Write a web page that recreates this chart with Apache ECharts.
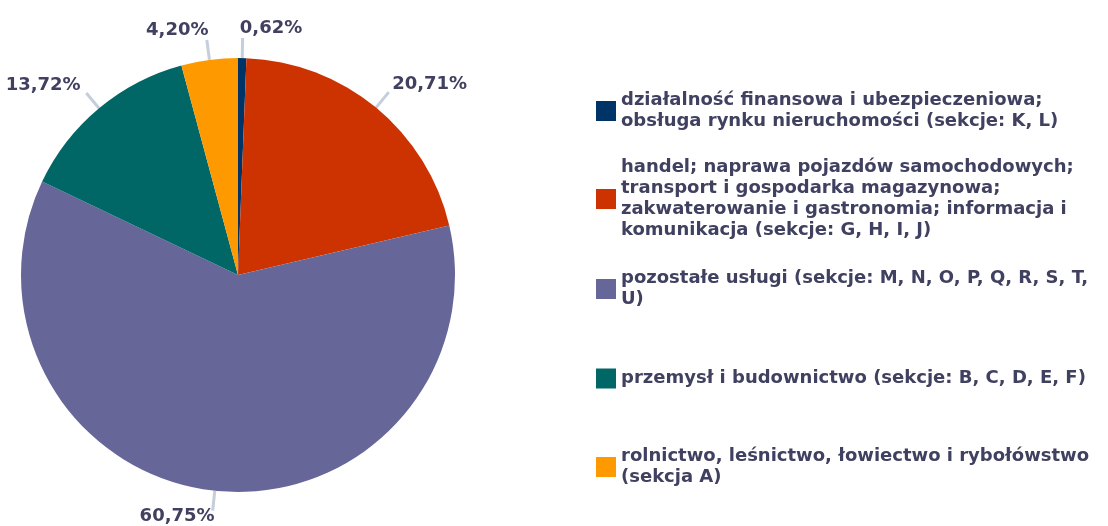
<!DOCTYPE html>
<html>
<head>
<meta charset="utf-8">
<script src="https://cdn.jsdelivr.net/npm/echarts@6/dist/echarts.min.js"></script>
<style>html,body{margin:0;padding:0;background:#fff}#c{width:1108px;height:526px}</style>
</head>
<body>
<div id="c"></div>
<script>
const categories = [
  'działalność finansowa i ubezpieczeniowa; obsługa rynku nieruchomości (sekcje: K, L)',
  'handel; naprawa pojazdów samochodowych; transport i gospodarka magazynowa; zakwaterowanie i gastronomia; informacja i komunikacja (sekcje: G, H, I, J)',
  'pozostałe usługi (sekcje: M, N, O, P, Q, R, S, T, U)',
  'przemysł i budownictwo (sekcje: B, C, D, E, F)',
  'rolnictwo, leśnictwo, łowiectwo i rybołówstwo (sekcja A)'
];
const legendLabels = [
  'działalność finansowa i ubezpieczeniowa;\nobsługa rynku nieruchomości (sekcje: K, L)',
  'handel; naprawa pojazdów samochodowych;\ntransport i gospodarka magazynowa;\nzakwaterowanie i gastronomia; informacja i\nkomunikacja (sekcje: G, H, I, J)',
  'pozostałe usługi (sekcje: M, N, O, P, Q, R, S, T,\nU)',
  'przemysł i budownictwo (sekcje: B, C, D, E, F)',
  'rolnictwo, leśnictwo, łowiectwo i rybołówstwo\n(sekcja A)'
];
const shares = [0.62, 20.71, 60.75, 13.72, 4.20];
const colors = ['#003366', '#CC3300', '#666699', '#006666', '#FF9900'];

const FONT = 'DejaVu Sans';
const textColor = '#404060';
const legendTops = [90, 157, 268, 368, 446];

const legends = categories.map((c, i) => ({
  data: [c],
  left: 596,
  top: legendTops[i],
  padding: 0,
  orient: 'vertical',
  itemWidth: 20,
  itemHeight: 20,
  itemGap: 0,
  icon: 'rect',
  formatter: () => legendLabels[i],
  textStyle: { fontFamily: FONT, fontWeight: 'bold', fontSize: 18, color: textColor, lineHeight: 21 }
}));

const pieData = categories.map((c, i) => ({ name: c, value: shares[i] }));
const center = [238, 275];
const radius = [0, 217];

const chart = echarts.init(document.getElementById('c'), null, { renderer: 'canvas' });
chart.setOption({
  animation: false,
  color: colors,
  legend: legends,
  series: [{
    type: 'pie',
    center: center,
    radius: radius,
    startAngle: 90,
    clockwise: true,
    avoidLabelOverlap: false,
    data: pieData,
    label: {
      show: true,
      position: 'outside',
      formatter: ' ',
      fontSize: 1,
      color: 'transparent'
    },
    labelLayout: { hideOverlap: false },
    labelLine: { show: true, length: 20, length2: 0, lineStyle: { color: '#C4CEDC', width: 3 } },
    itemStyle: { borderWidth: 0 }
  }, {
    type: 'pie',
    center: center,
    radius: radius,
    startAngle: 90,
    clockwise: true,
    silent: true,
    avoidLabelOverlap: true,
    data: pieData,
    itemStyle: { color: 'rgba(0,0,0,0)' },
    label: {
      show: true,
      position: 'outside',
      overflow: 'none',
      edgeDistance: 0,
      distanceToLabelLine: -3,
      formatter: p => p.value.toFixed(2).replace('.', ',') + '%',
      fontFamily: FONT, fontWeight: 'bold', fontSize: 18, color: textColor
    },
    labelLayout: { hideOverlap: false },
    labelLine: { show: true, length: 30, length2: 0, lineStyle: { color: 'rgba(0,0,0,0)' } }
  }]
});
</script>
</body>
</html>
